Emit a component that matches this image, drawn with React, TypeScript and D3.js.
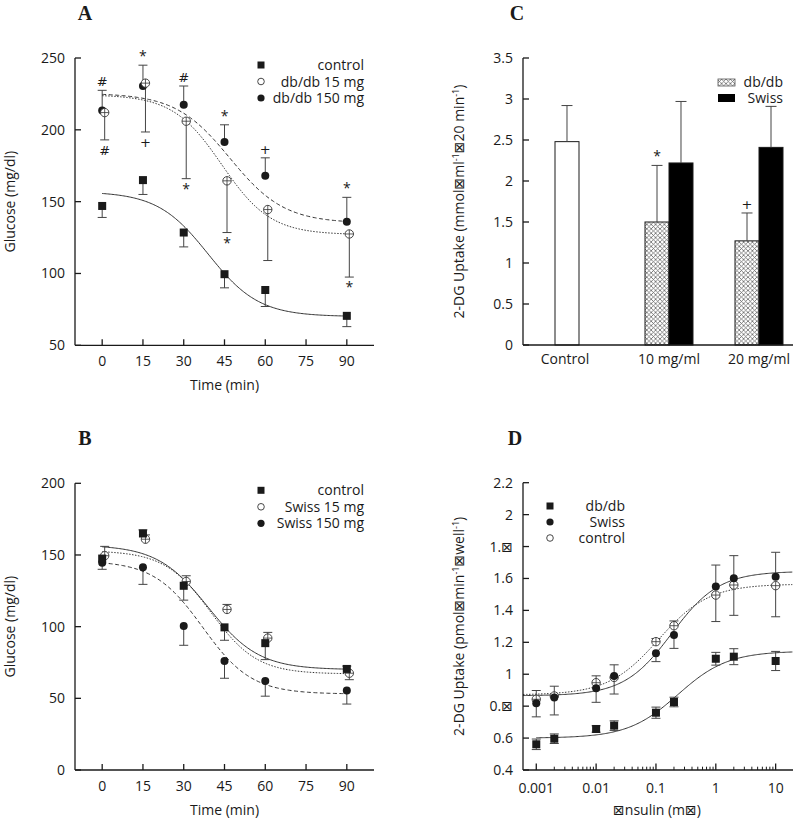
import React from "react";
import * as d3 from "d3";

const FONT = "'Open Sans', 'DejaVu Sans', sans-serif";
const MARKFONT = "'DejaVu Sans', sans-serif";
const SERIF = "'Liberation Serif', 'DejaVu Serif', serif";
const INK = "#1a1a1a";
const ERR = "#444";

// ---------- Panel A ----------
const timesA = [0, 15, 30, 45, 60, 90];
const timeTicks = [0, 15, 30, 45, 60, 75, 90];
const yTicksA = [50, 100, 150, 200, 250];
const controlA = [147, 165, 128.5, 99.5, 88.5, 70.5];
const controlAUp = [0, 0, 0, 0, 0, 0];
const controlADown = [8, 10, 10, 9.5, 11.5, 7.5];
const db15A = [212, 232.5, 206, 164.5, 144.5, 127.5];
const db15AUp = [0, 0, 0, 0, 0, 0];
const db15ADown = [19, 34, 40, 36, 35.5, 30];
const db150A = [213.5, 230.5, 217.5, 191.5, 168, 136];
const db150AUp = [14, 14.5, 13, 12, 12.5, 17];
const db150ADown = [0, 0, 0, 0, 0, 0];
const marksAboveA = ["#", "*", "#", "*", "+", "*"];
const marksBelowA = ["#", "+", "*", "*", "", "*"];
const legendA = ["control", "db/db 15 mg", "db/db 150 mg"];
// logistic fit parameters [top, bottom, t50, slope]
const fitControl = [157, 70, 39, 9.33];
const fitDb15A = [224.5, 127, 44, 9];
const fitDb150A = [225.5, 135, 47, 10];

// ---------- Panel B ----------
const timesB = [0, 15, 30, 45, 60, 90];
const yTicksB = [0, 50, 100, 150, 200];
const controlB = [147.5, 165, 128.5, 99.5, 88.5, 70.5];
const controlBUp = [0, 2.5, 0, 0, 0, 2];
const controlBDown = [7.5, 0, 10, 9, 11.5, 0];
const sw15B = [149.5, 161, 131.5, 112, 92, 67.5];
const sw15BUp = [6.5, 3, 4, 3.5, 4, 0];
const sw15BDown = [0, 0, 0, 0, 0, 4.5];
const sw150B = [144.5, 141.5, 100.5, 76, 62, 55.5];
const sw150BUp = [0, 0, 0, 0, 0, 0];
const sw150BDown = [0, 12, 13.5, 12, 10.5, 9.5];
const legendB = ["control", "Swiss 15 mg", "Swiss 150 mg"];
const fitSw15B = [153, 67, 40, 8.5];
const fitSw150B = [146, 53, 37, 9];

// ---------- Panel C ----------
const categoriesC = ["Control", "10 mg/ml", "20 mg/ml"];
const subgroupsC = ["db/db", "Swiss"];
const controlC = 2.48;
const controlCErr = 0.44;
const dbdbC = [1.5, 1.27];
const dbdbCErr = [0.69, 0.34];
const dbdbCMarks = ["*", "+"];
const swissC = [2.22, 2.41];
const swissCErr = [0.75, 0.5];
const yTicksC = [0, 0.5, 1, 1.5, 2, 2.5, 3, 3.5];
const yTickLabelsC = ["0", "0.5", "1", "1.5", "2", "2.5", "3", "3.5"];

// ---------- Panel D ----------
const concD = [0.001, 0.002, 0.01, 0.02, 0.1, 0.2, 1, 2, 10];
const dbdbD = [0.561, 0.596, 0.657, 0.678, 0.759, 0.826, 1.097, 1.11, 1.083];
const dbdbDUp = [0.033, 0.03, 0.02, 0.03, 0.035, 0.03, 0.04, 0.05, 0.06];
const dbdbDDown = [0.033, 0.03, 0.02, 0.03, 0.035, 0.03, 0.04, 0.05, 0.06];
const swissD = [0.818, 0.855, 0.912, 0.989, 1.131, 1.246, 1.549, 1.601, 1.611];
const swissDUp = [0.08, 0.07, 0.078, 0.07, 0, 0, 0.135, 0.142, 0.153];
const swissDDown = [0.085, 0.11, 0.088, 0.113, 0.052, 0.084, 0, 0, 0];
const controlD = [0.843, 0.864, 0.947, 0.98, 1.204, 1.304, 1.496, 1.559, 1.555];
const controlDUp = [0, 0, 0, 0, 0.02, 0.03, 0, 0, 0];
const controlDDown = [0, 0, 0, 0, 0, 0, 0.166, 0.19, 0.195];
const yTicksD = [0.4, 0.6, 0.8, 1, 1.2, 1.4, 1.6, 1.8, 2, 2.2];
const yTickLabelsD = ["0.4", "0.6", "0.\u22A0", "1", "1.2", "1.4", "1.6", "1.\u22A0", "2", "2.2"];
const xTicksD = [0.001, 0.01, 0.1, 1, 10];
const xTickLabelsD = ["0.001", "0.01", "0.1", "1", "10"];
const legendD = ["db/db", "Swiss", "control"];
// Hill fit parameters [bottom, top, logEC50, hill]
const fitDbdbD = [0.6, 1.145, -0.634, 1.04];
const fitSwissD = [0.865, 1.645, -0.737, 1.094];
const fitControlD = [0.87, 1.565, -0.957, 1.031];

function sigmoid(p: number[], t: number) {
  const [top, bottom, t50, s] = p;
  return bottom + (top - bottom) / (1 + Math.exp((t - t50) / s));
}
function hill(p: number[], x: number) {
  const [bottom, top, logEC, h] = p;
  return bottom + (top - bottom) / (1 + Math.pow(10, (logEC - Math.log10(x)) * h));
}

function Marker({ kind, x, y }: { kind: string; x: number; y: number }) {
  if (kind === "square") return <rect x={x - 4} y={y - 4} width={8} height={8} fill={INK} />;
  if (kind === "filled") return <circle cx={x} cy={y} r={4} fill={INK} />;
  if (kind === "legendOpen") return <circle cx={x} cy={y} r={3.3} fill="white" stroke="#333" strokeWidth={0.9} />;
  return (
    <g>
      <circle cx={x} cy={y} r={4.2} fill="white" stroke="#333" strokeWidth={0.9} />
      <line x1={x - 4.2} x2={x + 4.2} y1={y} y2={y} stroke="#333" strokeWidth={0.8} />
      <line x1={x} x2={x} y1={y - 4.2} y2={y + 4.2} stroke="#333" strokeWidth={0.8} />
    </g>
  );
}

function ErrBar({ x, y0, y1, cap = 9 }: { x: number; y0: number; y1: number; cap?: number }) {
  return (
    <g stroke={ERR} strokeWidth={1}>
      <line x1={x} x2={x} y1={y0} y2={y1} />
      <line x1={x - cap / 2} x2={x + cap / 2} y1={y1} y2={y1} />
    </g>
  );
}

type Series = { kind: string; xs: number[]; ys: number[]; up: number[]; down: number[]; dx: number };

function SeriesErr({ s, xs, ys }: { s: Series; xs: any; ys: any }) {
  return (
    <g>
      {s.ys.map((v, i) => {
        const x = xs(s.xs[i]) + s.dx;
        return (
          <g key={i}>
            {s.up[i] > 0 && <ErrBar x={x} y0={ys(v)} y1={ys(v + s.up[i])} />}
            {s.down[i] > 0 && <ErrBar x={x} y0={ys(v)} y1={ys(v - s.down[i])} />}
          </g>
        );
      })}
    </g>
  );
}
function SeriesMarks({ s, xs, ys }: { s: Series; xs: any; ys: any }) {
  return (
    <g>
      {s.ys.map((v, i) => (
        <Marker key={i} kind={s.kind} x={xs(s.xs[i]) + s.dx} y={ys(v)} />
      ))}
    </g>
  );
}

function YAxis({ x, y, ticks, labels }: { x: number; y: any; ticks: number[]; labels?: string[] }) {
  const [r0, r1] = y.range();
  return (
    <g>
      <line x1={x} x2={x} y1={r0} y2={r1} stroke={INK} strokeWidth={1.3} />
      {ticks.map((t, i) => (
        <g key={i}>
          <line x1={x} x2={x + 6} y1={y(t)} y2={y(t)} stroke={INK} strokeWidth={1.3} />
          <text x={x - 10} y={y(t) + 5} textAnchor="end" fontSize={14} fontFamily={FONT} fill={INK}>
            {labels ? labels[i] : String(t)}
          </text>
        </g>
      ))}
    </g>
  );
}

function YLabel({ x, y, children }: { x: number; y: number; children: any }) {
  return (
    <text transform={`translate(${x},${y}) rotate(-90)`} textAnchor="middle" fontSize={14} fontFamily={FONT} fill={INK}>
      {children}
    </text>
  );
}

function Title({ x, y, t }: { x: number; y: number; t: string }) {
  return (
    <text x={x} y={y} textAnchor="middle" fontSize={20} fontWeight="bold" fontFamily={SERIF} fill={INK}>
      {t}
    </text>
  );
}

function Mark({ x, y, m }: { x: number; y: number; m: string }) {
  const star = m === "*";
  return (
    <text x={x} y={y} textAnchor="middle" fontSize={star ? 14 : 13} fontFamily={star ? FONT : MARKFONT} fill={INK}>
      {m}
    </text>
  );
}

function Legend({ x, textRight, ys, kinds, labels }: { x: number; textRight: number; ys: number[]; kinds: string[]; labels: string[] }) {
  return (
    <g>
      {labels.map((l, i) => (
        <g key={i}>
          {kinds[i] === "square" ? (
            <rect x={x - 3.5} y={ys[i] - 3.5} width={7} height={7} fill={INK} />
          ) : kinds[i] === "filled" ? (
            <circle cx={x} cy={ys[i]} r={3.6} fill={INK} />
          ) : (
            <Marker kind="legendOpen" x={x} y={ys[i]} />
          )}
          <text x={textRight} y={ys[i] + 5} textAnchor="end" fontSize={14} fontFamily={FONT} fill={INK}>
            {l}
          </text>
        </g>
      ))}
    </g>
  );
}

function TimePanel(props: {
  top: number; bottom: number; yDomain: number[]; yTicks: number[]; series: Series[];
  fits: { p: number[]; dash: string }[]; title: string; legend: string[];
  marksAbove?: string[]; marksBelow?: string[]; aboveSeries?: Series; belowSeries?: Series;
}) {
  const { top, bottom } = props;
  const xs = d3.scaleLinear().domain([-10, 100]).range([75, 374]);
  const ys = d3.scaleLinear().domain(props.yDomain).range([bottom, top]);
  const tSamples = d3.range(0, 90.01, 0.5);
  const line = (p: number[]) =>
    d3.line<number>().x((t) => xs(t)).y((t) => ys(sigmoid(p, t))).curve(d3.curveLinear)(tSamples) || "";
  return (
    <g>
      <Title x={85} y={top - 38} t={props.title} />
      {props.fits.map((f, i) => (
        <path key={i} d={line(f.p)} fill="none" stroke="#333" strokeWidth={1} strokeDasharray={f.dash} />
      ))}
      {props.series.map((s, i) => (
        <SeriesErr key={i} s={s} xs={xs} ys={ys} />
      ))}
      {props.series.map((s, i) => (
        <SeriesMarks key={i} s={s} xs={xs} ys={ys} />
      ))}
      {props.marksAbove &&
        props.aboveSeries &&
        props.marksAbove.map((m, i) => {
          const s = props.aboveSeries!;
          const cap = ys(s.ys[i] + s.up[i]);
          return <Mark key={"a" + i} x={xs(s.xs[i]) + s.dx} y={cap - 4} m={m} />;
        })}
      {props.marksBelow &&
        props.belowSeries &&
        props.marksBelow.map((m, i) => {
          const s = props.belowSeries!;
          const cap = ys(s.ys[i] - s.down[i]);
          return <Mark key={"b" + i} x={xs(s.xs[i]) + s.dx} y={cap + 15} m={m} />;
        })}
      <YAxis x={75} y={ys} ticks={props.yTicks} />
      <line x1={75} x2={374} y1={bottom} y2={bottom} stroke={INK} strokeWidth={1.3} />
      {timeTicks.map((t) => (
        <g key={t}>
          <line x1={xs(t)} x2={xs(t)} y1={bottom} y2={bottom - 6} stroke={INK} strokeWidth={1.3} />
          <text x={xs(t)} y={bottom + 21} textAnchor="middle" fontSize={14} fontFamily={FONT} fill={INK}>
            {t}
          </text>
        </g>
      ))}
      <text x={224.5} y={bottom + 45} textAnchor="middle" fontSize={14} fontFamily={FONT} fill={INK}>
        Time (min)
      </text>
      <YLabel x={15} y={(top + bottom) / 2}>Glucose (mg/dl)</YLabel>
      <Legend x={261} textRight={364} ys={[top + 7, top + 23.5, top + 40]} kinds={["square", "open", "filled"]} labels={props.legend} />
    </g>
  );
}

function PanelC() {
  const top = 58, bottom = 345;
  const ys = d3.scaleLinear().domain([0, 3.5]).range([bottom, top]);
  const xg = d3.scaleBand<string>().domain(categoriesC).range([555, 783]).paddingInner(0.4667).paddingOuter(0);
  const xsub = d3.scaleBand<string>().domain(subgroupsC).range([0, xg.bandwidth()]);
  const bw = xsub.bandwidth();
  const cx = xg(categoriesC[0])! + xsub(subgroupsC[0])!;
  return (
    <g>
      <defs>
        <pattern id="hatch" width={4.4} height={4.4} patternUnits="userSpaceOnUse">
          <rect width={4.4} height={4.4} fill="white" />
          <path d="M0,0 L4.4,4.4 M4.4,0 L0,4.4" stroke="#555" strokeWidth={0.7} />
        </pattern>
      </defs>
      <Title x={517} y={20} t="C" />
      <rect x={cx} y={ys(controlC)} width={bw} height={bottom - ys(controlC)} fill="white" stroke={INK} strokeWidth={1} />
      <ErrBar x={cx + bw / 2} y0={ys(controlC)} y1={ys(controlC + controlCErr)} cap={11} />
      {categoriesC.slice(1).map((c, i) => {
        const x0 = xg(c)! + xsub("db/db")!;
        const x1 = xg(c)! + xsub("Swiss")!;
        return (
          <g key={c}>
            <rect x={x0} y={ys(dbdbC[i])} width={bw} height={bottom - ys(dbdbC[i])} fill="url(#hatch)" stroke={INK} strokeWidth={1} />
            <rect x={x1} y={ys(swissC[i])} width={bw} height={bottom - ys(swissC[i])} fill="#000" stroke={INK} strokeWidth={1} />
            <ErrBar x={x0 + bw / 2} y0={ys(dbdbC[i])} y1={ys(dbdbC[i] + dbdbCErr[i])} cap={11} />
            <ErrBar x={x1 + bw / 2} y0={ys(swissC[i])} y1={ys(swissC[i] + swissCErr[i])} cap={11} />
            <Mark x={x0 + bw / 2} y={ys(dbdbC[i] + dbdbCErr[i]) - 4} m={dbdbCMarks[i]} />
          </g>
        );
      })}
      <YAxis x={523} y={ys} ticks={yTicksC} labels={yTickLabelsC} />
      <line x1={523} x2={793} y1={bottom} y2={bottom} stroke={INK} strokeWidth={1.3} />
      <text x={cx + bw / 2 - 2} y={bottom + 19} textAnchor="middle" fontSize={14} fontFamily={FONT} fill={INK}>
        {categoriesC[0]}
      </text>
      {categoriesC.slice(1).map((c) => (
        <text key={c} x={xg(c)! + xg.bandwidth() / 2} y={bottom + 19} textAnchor="middle" fontSize={14} fontFamily={FONT} fill={INK}>
          {c}
        </text>
      ))}
      <YLabel x={464} y={(top + bottom) / 2}>
        2-DG Uptake (mmol{"\u22A0"}ml
        <tspan dy={-5} fontSize={9}>-1</tspan>
        <tspan dy={5}>{"\u22A0"}20 min</tspan>
        <tspan dy={-5} fontSize={9}>-1</tspan>
        <tspan dy={5}>)</tspan>
      </YLabel>
      <rect x={718} y={79} width={17} height={7} fill="url(#hatch)" stroke="#555" strokeWidth={0.8} />
      <rect x={718} y={94} width={17} height={8} fill="#000" />
      <text x={783} y={87} textAnchor="end" fontSize={14} fontFamily={FONT} fill={INK}>db/db</text>
      <text x={783} y={103} textAnchor="end" fontSize={14} fontFamily={FONT} fill={INK}>Swiss</text>
    </g>
  );
}

function PanelD() {
  const top = 482.7, bottom = 770;
  const xs = d3.scaleLog().domain([0.0006, 19.5]).range([523, 793]);
  const ys = d3.scaleLinear().domain([0.4, 2.2]).range([bottom, top]);
  const full = d3.range(Math.log10(0.0006), Math.log10(19.5), 0.02).map((l) => Math.pow(10, l));
  const fromFirst = d3.range(-3, Math.log10(19.5), 0.02).map((l) => Math.pow(10, l));
  const line = (p: number[], samples: number[]) =>
    d3.line<number>().x((c) => xs(c)).y((c) => ys(hill(p, c)))(samples) || "";
  const minor: number[] = [];
  [0.001, 0.01, 0.1, 1, 10].forEach((dec) => {
    for (let k = 2; k <= 9; k++) if (dec * k <= 19.5) minor.push(dec * k);
  });
  const series: Series[] = [
    { kind: "filled", xs: concD, ys: swissD, up: swissDUp, down: swissDDown, dx: 0 },
    { kind: "open", xs: concD, ys: controlD, up: controlDUp, down: controlDDown, dx: 0 },
    { kind: "square", xs: concD, ys: dbdbD, up: dbdbDUp, down: dbdbDDown, dx: 0 },
  ];
  return (
    <g>
      <Title x={515} y={445} t="D" />
      <path d={line(fitControlD, full)} fill="none" stroke="#333" strokeWidth={1} strokeDasharray="1.5,1.5" />
      <path d={line(fitSwissD, full)} fill="none" stroke="#333" strokeWidth={1} />
      <path d={line(fitDbdbD, fromFirst)} fill="none" stroke="#333" strokeWidth={1} />
      {series.map((s, i) => (
        <SeriesErr key={i} s={s} xs={xs} ys={ys} />
      ))}
      <SeriesMarks s={series[1]} xs={xs} ys={ys} />
      <SeriesMarks s={series[0]} xs={xs} ys={ys} />
      <SeriesMarks s={series[2]} xs={xs} ys={ys} />
      <YAxis x={523} y={ys} ticks={yTicksD} labels={yTickLabelsD} />
      <line x1={523} x2={793} y1={bottom} y2={bottom} stroke={INK} strokeWidth={1.3} />
      {minor.map((m, i) => (
        <line key={i} x1={xs(m)} x2={xs(m)} y1={bottom} y2={bottom - 3.3} stroke={INK} strokeWidth={1} />
      ))}
      {xTicksD.map((t, i) => (
        <g key={t}>
          <line x1={xs(t)} x2={xs(t)} y1={bottom} y2={bottom - 6.5} stroke={INK} strokeWidth={1.3} />
          <text x={xs(t)} y={bottom + 23} textAnchor="middle" fontSize={14} fontFamily={FONT} fill={INK}>
            {xTickLabelsD[i]}
          </text>
        </g>
      ))}
      <text x={657} y={bottom + 45} textAnchor="middle" fontSize={14} fontFamily={FONT} fill={INK}>
        {"\u22A0nsulin (m\u22A0)"}
      </text>
      <YLabel x={464} y={(top + bottom) / 2}>
        2-DG Uptake (pmol{"\u22A0"}min
        <tspan dy={-5} fontSize={9}>-1</tspan>
        <tspan dy={5}>{"\u22A0"}well</tspan>
        <tspan dy={-5} fontSize={9}>-1</tspan>
        <tspan dy={5}>)</tspan>
      </YLabel>
      <Legend x={550} textRight={625} ys={[506, 522, 538]} kinds={["square", "filled", "open"]} labels={legendD} />
    </g>
  );
}

export default function App() {
  const seriesA: Series[] = [
    { kind: "filled", xs: timesA, ys: db150A, up: db150AUp, down: db150ADown, dx: 0 },
    { kind: "open", xs: timesA, ys: db15A, up: db15AUp, down: db15ADown, dx: 2.5 },
    { kind: "square", xs: timesA, ys: controlA, up: controlAUp, down: controlADown, dx: 0 },
  ];
  const seriesB: Series[] = [
    { kind: "filled", xs: timesB, ys: sw150B, up: sw150BUp, down: sw150BDown, dx: 0 },
    { kind: "open", xs: timesB, ys: sw15B, up: sw15BUp, down: sw15BDown, dx: 2.5 },
    { kind: "square", xs: timesB, ys: controlB, up: controlBUp, down: controlBDown, dx: 0 },
  ];
  return (
    <svg width={797} height={821} style={{ position: "absolute", left: 0, top: 0, background: "white" }}>
      <rect width={797} height={821} fill="white" />
      <TimePanel
        top={58} bottom={345.3} yDomain={[50, 250]} yTicks={yTicksA} series={seriesA}
        fits={[{ p: fitControl, dash: "" }, { p: fitDb15A, dash: "1.5,1.5" }, { p: fitDb150A, dash: "4,2.5" }]}
        title="A" legend={legendA}
        marksAbove={marksAboveA} marksBelow={marksBelowA} aboveSeries={seriesA[0]} belowSeries={seriesA[1]}
      />
      <TimePanel
        top={483.3} bottom={770} yDomain={[0, 200]} yTicks={yTicksB} series={seriesB}
        fits={[{ p: fitControl, dash: "" }, { p: fitSw15B, dash: "1.5,1.5" }, { p: fitSw150B, dash: "4,2.5" }]}
        title="B" legend={legendB}
      />
      <PanelC />
      <PanelD />
    </svg>
  );
}
